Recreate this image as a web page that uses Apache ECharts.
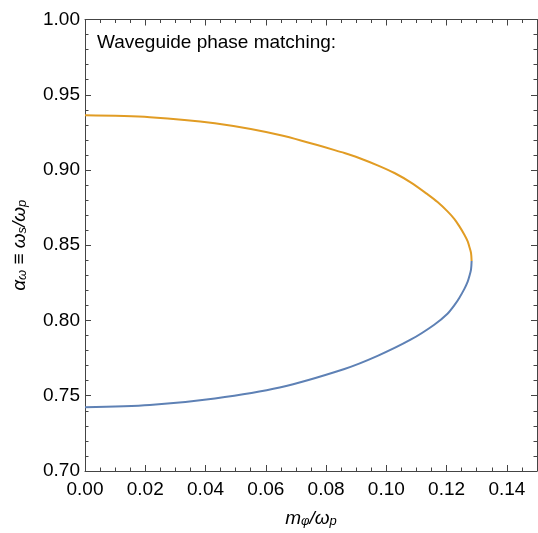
<!DOCTYPE html>
<html>
<head>
<meta charset="utf-8">
<script src="https://cdn.jsdelivr.net/npm/echarts@6/dist/echarts.min.js"></script>
<style>
  html, body { margin: 0; padding: 0; background: #fff; }
  #chart { width: 538px; height: 533px; }
</style>
</head>
<body>
<div id="chart"></div>
<script>
// upper branch (orange)
const upperX = [0, 0.0215, 0.0431, 0.0646, 0.0861, 0.0916, 0.0971, 0.1027, 0.1082, 0.1137, 0.1170,
  0.1203, 0.1226, 0.1242, 0.1259, 0.1270, 0.1275, 0.1281, 0.1283]
const upperY = [0.9363, 0.9351, 0.9310, 0.9232, 0.9113, 0.9075, 0.9031, 0.8980, 0.8916, 0.8838, 0.8787,
  0.8725, 0.8674, 0.8627, 0.8570, 0.8526, 0.8493, 0.8449, 0.8395]
// lower branch (blue)
const lowerX = [0.1283, 0.1281, 0.1275, 0.1270, 0.1259, 0.1242, 0.1226, 0.1203, 0.1159, 0.1082, 0.0971,
  0.0861, 0.0646, 0.0431, 0.0215, 0]
const lowerY = [0.8395, 0.8338, 0.8290, 0.8258, 0.8210, 0.8150, 0.8102, 0.8045, 0.7972, 0.7874, 0.7765,
  0.7678, 0.7555, 0.7482, 0.7438, 0.7423]

const FONT = '"Liberation Sans", Arial, Helvetica, sans-serif'
const AXIS_COLOR = '#444'

const zip = (xs, ys) => xs.map((x, i) => [x, ys[i]])

const chart = echarts.init(document.getElementById('chart'))

// shared tick style, ticks point inward on all four sides
const tickBits = (minorSplit) => ({
  axisLine: { show: true, onZero: false, lineStyle: { color: AXIS_COLOR, width: 1 } },
  axisTick: { show: true, inside: true, length: 6, lineStyle: { color: AXIS_COLOR } },
  minorTick: { show: true, splitNumber: minorSplit, length: 3.5, lineStyle: { color: AXIS_COLOR } },
  splitLine: { show: false },
  minorSplitLine: { show: false }
})

const option = {
  animation: false,
  grid: { left: 85, top: 19.5, right: 1, bottom: 61.3, containLabel: false },
  graphic: [
    {
      type: 'text',
      left: 97,
      top: 33,
      style: { text: 'Waveguide phase matching:', font: '19px ' + FONT, fill: '#000' }
    }
  ],
  xAxis: [
    {
      type: 'value', min: 0, max: 0.15, interval: 0.02, position: 'bottom',
      ...tickBits(4),
      axisLabel: {
        show: true, margin: 9, fontSize: 19, fontFamily: FONT, color: '#000',
        showMaxLabel: false,
        formatter: v => v.toFixed(2)
      },
      name: '{i|m}{s|φ}{i|/ω}{s|p}',
      nameLocation: 'middle',
      nameGap: 38,
      nameTextStyle: {
        rich: {
          i: { fontSize: 19, fontStyle: 'italic', fontFamily: FONT, color: '#000' },
          s: { fontSize: 13, fontStyle: 'italic', fontFamily: FONT, color: '#000', verticalAlign: 'bottom', padding: [6, 0, 0, 0] }
        }
      }
    },
    {
      type: 'value', min: 0, max: 0.15, interval: 0.02, position: 'top',
      ...tickBits(4),
      axisLabel: { show: false }
    }
  ],
  yAxis: [
    {
      type: 'value', min: 0.7, max: 1.0, interval: 0.05, position: 'left',
      ...tickBits(5),
      axisLabel: {
        show: true, margin: 5, fontSize: 19, fontFamily: FONT, color: '#000',
        formatter: v => v.toFixed(2)
      },
      name: '{i|α}{s|ω}{n| ≡ }{i|ω}{s|s}{i|/ω}{s|p}',
      nameLocation: 'middle',
      nameGap: 56,
      nameRotate: 90,
      nameTextStyle: {
        rich: {
          i: { fontSize: 19, fontStyle: 'italic', fontFamily: FONT, color: '#000' },
          n: { fontSize: 19, fontFamily: FONT, color: '#000' },
          s: { fontSize: 13, fontStyle: 'italic', fontFamily: FONT, color: '#000', verticalAlign: 'bottom', padding: [6, 0, 0, 0] }
        }
      }
    },
    {
      type: 'value', min: 0.7, max: 1.0, interval: 0.05, position: 'right',
      ...tickBits(5),
      axisLabel: { show: false }
    }
  ],
  series: [
    {
      name: 'upper', type: 'line', xAxisIndex: 0, yAxisIndex: 0,
      data: zip(upperX, upperY),
      smooth: 0.3, showSymbol: false, symbol: 'none',
      lineStyle: { color: '#E19C24', width: 2 }
    },
    {
      name: 'lower', type: 'line', xAxisIndex: 0, yAxisIndex: 0,
      data: zip(lowerX, lowerY),
      smooth: 0.3, showSymbol: false, symbol: 'none',
      lineStyle: { color: '#5E81B5', width: 2 }
    }
  ]
}

chart.setOption(option)
</script>
</body>
</html>
